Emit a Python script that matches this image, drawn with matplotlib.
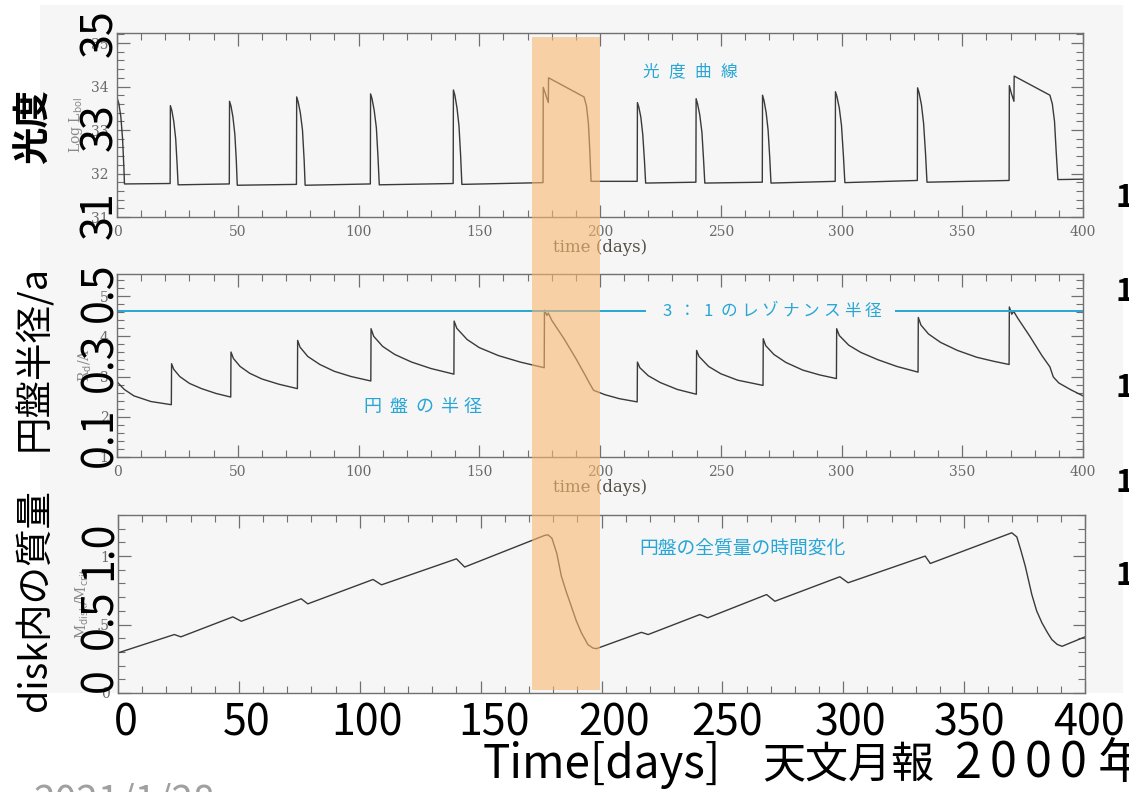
import matplotlib
matplotlib.use("Agg")
import matplotlib.pyplot as plt
from matplotlib.patches import Rectangle
from matplotlib.ticker import MultipleLocator, FuncFormatter, FormatStrFormatter
from matplotlib.transforms import blended_transform_factory

plt.rcParams["font.family"] = ["Noto Sans CJK JP", "DejaVu Sans"]

# ---- light curve: log L_bol vs time (days) ----
lum_t = [0, 0.8, 1.6, 2.3, 2.8, 3.1,
         22.0, 22.1, 22.7, 23.5, 24.3, 24.9, 25.3,
         46.5, 46.6, 47.2, 48.0, 48.8, 49.4, 49.8,
         74.3, 74.4, 75.0, 75.9, 76.8, 77.5, 77.9,
         104.9, 105.0, 105.6, 106.5, 107.4, 108.1, 108.6,
         139.2, 139.3, 139.9, 140.8, 141.6, 142.3, 142.8,
         176.4, 176.5, 177.3, 178.6, 178.7, 193.4, 194.4, 195.2, 195.8, 196.3,
         215.4, 215.5, 216.1, 216.9, 217.7, 218.4, 218.9,
         239.7, 239.8, 240.4, 241.3, 242.2, 242.9, 243.4,
         267.2, 267.3, 267.9, 268.8, 269.6, 270.3, 270.8,
         297.4, 297.5, 298.1, 299.1, 300.0, 300.8, 301.4,
         331.4, 331.5, 332.1, 333.1, 334.0, 334.8, 335.4,
         369.4, 369.5, 370.3, 371.4, 371.5, 386.3, 387.3, 388.2, 388.9, 389.6, 400]
lum_v = [33.75, 33.60, 33.30, 32.80, 32.20, 31.76,
         31.77, 33.56, 33.45, 33.20, 32.80, 32.20, 31.74,
         31.76, 33.66, 33.55, 33.30, 32.90, 32.30, 31.73,
         31.75, 33.76, 33.65, 33.40, 33.00, 32.30, 31.73,
         31.76, 33.83, 33.72, 33.45, 33.05, 32.35, 31.74,
         31.77, 33.92, 33.80, 33.50, 33.10, 32.40, 31.75,
         31.79, 33.98, 33.85, 33.63, 34.20, 33.76, 33.55, 33.15, 32.50, 31.82,
         31.82, 33.63, 33.52, 33.30, 32.90, 32.30, 31.78,
         31.80, 33.72, 33.60, 33.35, 32.95, 32.30, 31.78,
         31.80, 33.80, 33.68, 33.40, 33.00, 32.35, 31.78,
         31.82, 33.88, 33.77, 33.50, 33.10, 32.40, 31.79,
         31.84, 33.97, 33.86, 33.58, 33.15, 32.45, 31.80,
         31.84, 34.02, 33.85, 33.66, 34.24, 33.80, 33.60, 33.20, 32.50, 31.86, 31.87]

# ---- disk radius R_d / A ----
rad_t = [0, 3, 7, 14, 22.5,
         22.6, 23.5, 26, 30, 35, 41, 47.1,
         47.2, 48.2, 51, 55, 60, 67, 74.7,
         74.8, 75.8, 79, 84, 90, 97, 105.1,
         105.2, 106.3, 110, 115, 122, 130, 139.5,
         139.6, 140.7, 145, 150, 158, 167, 176.9,
         177.0, 178.0, 178.6, 180, 185, 190, 193.9, 195.5, 197.3, 202, 208, 215.4,
         215.5, 216.5, 220, 225, 232, 239.9,
         240.0, 241.0, 245, 250, 257, 267.5,
         267.6, 268.6, 272, 277, 284, 291, 297.9,
         298.0, 299.1, 303, 308, 315, 323, 331.7,
         331.8, 332.9, 336, 341, 348, 356, 363, 369.4,
         369.5, 370.5, 371.3, 373, 378, 383, 386.3, 387.7, 390, 395, 400]
rad_v = [0.287, 0.268, 0.252, 0.238, 0.230,
         0.332, 0.318, 0.300, 0.283, 0.270, 0.258, 0.249,
         0.361, 0.345, 0.325, 0.308, 0.294, 0.281, 0.270,
         0.390, 0.373, 0.350, 0.330, 0.313, 0.300, 0.289,
         0.419, 0.400, 0.375, 0.355, 0.336, 0.320, 0.306,
         0.438, 0.420, 0.392, 0.372, 0.352, 0.336, 0.322,
         0.465, 0.452, 0.458, 0.440, 0.395, 0.345, 0.303, 0.285, 0.266, 0.255, 0.245, 0.237,
         0.336, 0.322, 0.302, 0.285, 0.268, 0.256,
         0.365, 0.350, 0.325, 0.307, 0.291, 0.278,
         0.394, 0.377, 0.355, 0.335, 0.316, 0.304, 0.295,
         0.419, 0.402, 0.378, 0.360, 0.342, 0.325, 0.311,
         0.447, 0.428, 0.406, 0.385, 0.365, 0.348, 0.338, 0.330,
         0.473, 0.455, 0.462, 0.445, 0.400, 0.352, 0.324, 0.299, 0.284, 0.267, 0.252]
resonance_radius = 0.462

# ---- total disk mass M_disk / M_crit ----
mass_t = [0, 23.3, 26, 47.5, 51, 75.8, 78.5, 105.5, 109, 140, 143.4,
          176.5, 177.9, 179.5, 181.5, 183.4, 185.5, 187.5, 189.5, 191.7, 194.4, 196.5, 197.9,
          216.5, 219.3, 240.7, 243.9, 268.3, 271.7, 298.6, 302, 333.9, 336,
          369.7, 371.8, 373.5, 375.3, 378, 380, 382.2, 384.5, 386.3, 388.5, 390.5, 400]
mass_v = [0.293, 0.427, 0.410, 0.556, 0.524, 0.688, 0.651, 0.829, 0.790, 0.980, 0.920,
          1.151, 1.155, 1.130, 1.020, 0.853, 0.735, 0.634, 0.530, 0.439, 0.353, 0.328, 0.324,
          0.443, 0.427, 0.573, 0.549, 0.719, 0.670, 0.849, 0.805, 1.000, 0.946,
          1.170, 1.140, 1.040, 0.926, 0.719, 0.600, 0.512, 0.440, 0.390, 0.355, 0.341, 0.410]

highlight_days = (172, 200)

bottom_ticks = ["0", "50", "100", "150", "200", "250", "300", "350", "400"]

# ---------------------------------------------------------------
W, H = 1129, 792
fig = plt.figure(figsize=(W / 100, H / 100), dpi=100)
fig.patch.set_facecolor("white")


def rect(x0, y0, x1, y1):
    return [x0 / W, 1 - y1 / H, (x1 - x0) / W, (y1 - y0) / H]


def ftxt(x, y, s, **kw):
    return fig.text(x / W, 1 - y / H, s, **kw)


# scanned page background
fig.add_artist(Rectangle((40 / W, 1 - 693 / H), (1123 - 40) / W, (693 - 5) / H,
                         transform=fig.transFigure, facecolor="#f6f6f6",
                         edgecolor="none", zorder=-1))

FRAME = "#707070"
INK = "#3a3a3a"
SCANTXT = "#6a6a6a"
CYAN = "#27a6d6"


def style(ax, xlabels=True):
    ax.set_facecolor("none")
    ax.set_xlim(0, 400)
    ax.xaxis.set_major_locator(MultipleLocator(50))
    ax.xaxis.set_minor_locator(MultipleLocator(10))
    ax.tick_params(which="both", direction="in", top=True, right=True,
                   color=FRAME, labelcolor=SCANTXT, labelsize=10,
                   labelfontfamily="DejaVu Serif", labelbottom=xlabels)
    ax.tick_params(which="major", length=9, width=0.9, pad=6)
    ax.tick_params(which="minor", length=5, width=0.8)
    for sp in ax.spines.values():
        sp.set_color(FRAME)
        sp.set_linewidth(1.0)
    if xlabels:
        ax.set_xlabel("time (days)", fontsize=12, family="DejaVu Serif",
                      color="#555048", labelpad=0)


ax1 = fig.add_axes(rect(117, 33, 1083, 217))
style(ax1)
ax1.plot(lum_t, lum_v, color=INK, lw=1.0)
ax1.set_ylim(31.0, 35.23)
ax1.yaxis.set_major_locator(MultipleLocator(1))
ax1.yaxis.set_minor_locator(MultipleLocator(0.2))
ax1.yaxis.set_major_formatter(FormatStrFormatter("%d"))
ax1.set_ylabel(r"Log L$_{\rm bol}$", fontsize=10, color="#8a8a8a",
               family="DejaVu Serif", labelpad=4)

ax2 = fig.add_axes(rect(117, 274, 1083, 457))
style(ax2)
ax2.plot(rad_t, rad_v, color=INK, lw=1.0)
ax2.hlines(resonance_radius, 0, 219, color=CYAN, lw=1.4)
ax2.hlines(resonance_radius, 322, 400, color=CYAN, lw=1.4)
ax2.set_ylim(0.1, 0.555)
ax2.yaxis.set_major_locator(MultipleLocator(0.1))
ax2.yaxis.set_minor_locator(MultipleLocator(0.02))
ax2.yaxis.set_major_formatter(FuncFormatter(lambda v, p: f"{v * 10:.0f}"))
ax2.set_ylabel(r"R$_{\rm d}$/A", fontsize=10, color="#8a8a8a",
               family="DejaVu Serif", labelpad=4)

ax3 = fig.add_axes(rect(118, 515, 1085, 693))
style(ax3, xlabels=False)
ax3.plot(mass_t, mass_v, color=INK, lw=1.0)
ax3.set_ylim(0, 1.3)
ax3.yaxis.set_major_locator(MultipleLocator(0.5))
ax3.yaxis.set_minor_locator(MultipleLocator(0.1))
ax3.yaxis.set_major_formatter(FuncFormatter(lambda v, p: {0: "0", 0.5: ".5", 1.0: "1"}.get(round(v, 1), "")))
ax3.set_ylabel(r"M$_{\rm disk}$/M$_{\rm crit}$", fontsize=10, color="#8a8a8a",
               family="DejaVu Serif", labelpad=4)

# highlighted superoutburst interval across all three panels
band_tr = blended_transform_factory(ax1.transData, fig.transFigure)
fig.add_artist(Rectangle((highlight_days[0], 1 - 690 / H),
                         highlight_days[1] - highlight_days[0], (690 - 37) / H,
                         transform=band_tr, facecolor="#f8b76f", alpha=0.6,
                         edgecolor="none", zorder=5))

# cyan annotations
for x, ch in zip([651, 677, 703, 729], "光度曲線"):
    ftxt(x, 72, ch, ha="center", va="center", fontsize=12, color=CYAN)
res_chars = "3：1のレゾナンス半径"
for i, ch in enumerate(res_chars):
    ftxt(667 + i * 20.6, 311, ch, ha="center", va="center", fontsize=12, color=CYAN)
for x, ch in zip([372, 398, 424, 449, 473], "円盤の半径"):
    ftxt(x, 407, ch, ha="center", va="center", fontsize=13, color=CYAN)
ftxt(742, 548, "円盤の全質量の時間変化", ha="center", va="center", fontsize=13.5, color=CYAN)

# large slide labels
BIG = dict(color="black", rotation=90, ha="center", va="center")
ftxt(33, 127, "光度", fontsize=27, fontweight="bold", **BIG)
ftxt(35, 358, "円盤半径/a", fontsize=27, **BIG)
ftxt(35, 600, "disk内の質量", fontsize=27, **BIG)

for y, s in [(33, "35"), (127, "33"), (215, "31"),
             (292, "0.5"), (362, "0.3"), (437, "0.1"),
             (550, "1.0"), (619, "0.5"), (680, "0")]:
    ftxt(100, y, s, fontsize=31, **BIG)

for x, s in zip([126, 247, 367, 494, 614, 727, 851, 970, 1089], bottom_ticks):
    ftxt(x, 735, s, ha="center", va="baseline", fontsize=31, color="black")

ftxt(483, 778, "Time[days]", ha="left", va="baseline", fontsize=33, color="black")
ftxt(762, 778, "天文月報", ha="left", va="baseline", fontsize=31, color="black")
for x, ch in zip([968, 1003, 1038, 1073, 1122], "2000年"):
    ftxt(x, 778, ch, ha="center", va="baseline", fontsize=35, color="black")

ftxt(33, 814, "2021/1/28", ha="left", va="baseline", fontsize=28, color="#a0a0a0")

for y in [198, 292, 388, 483, 576]:
    ftxt(1116, y, "1", ha="left", va="center", fontsize=22, fontweight="bold",
         color="black")

fig.savefig("out.png", dpi=100, facecolor="white")
